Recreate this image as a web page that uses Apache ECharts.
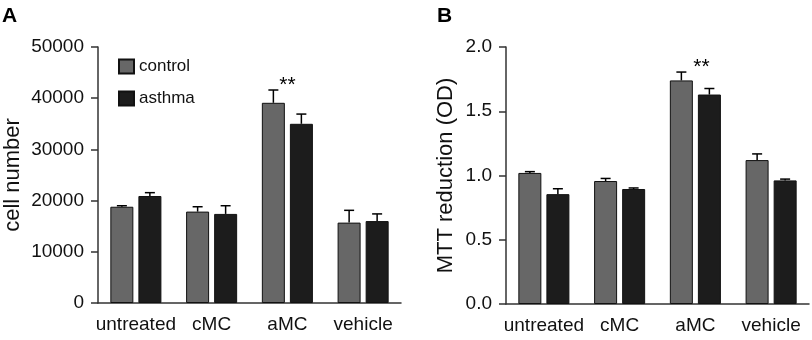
<!DOCTYPE html>
<html>
<head>
<meta charset="utf-8">
<script src="https://cdn.jsdelivr.net/npm/echarts@6/dist/echarts.min.js"></script>
<style>
  html, body { margin: 0; padding: 0; background: #fff; }
  #chart { width: 812px; height: 340px; }
</style>
</head>
<body>
<div id="chart"></div>
<script>
const categories = ['untreated', 'cMC', 'aMC', 'vehicle'];

// panel A: cell number
const cellControl = [18800, 17850, 39100, 15700];
const cellControlErr = [200, 950, 2500, 2400];
const cellAsthma = [20900, 17400, 35000, 16000];
const cellAsthmaErr = [650, 1600, 1900, 1400];
const cellStars = ['', '', '**', ''];

// panel B: MTT reduction (OD)
const mttControl = [1.02, 0.957, 1.74, 1.12];
const mttControlErr = [0.01, 0.02, 0.065, 0.048];
const mttAsthma = [0.855, 0.895, 1.63, 0.962];
const mttAsthmaErr = [0.042, 0.008, 0.047, 0.01];
const mttStars = ['', '', '**', ''];

const FONT = '"Liberation Sans", Arial, sans-serif';
const AXIS = '#333';
const colControl = '#676767';
const colAsthma = '#1c1c1c';
const BAR_OFF = 14; // px from category centre to bar centre

const chart = echarts.init(document.getElementById('chart'));

function errSeries(grid, vals, errs, offset) {
    return {
        type: 'custom',
        xAxisIndex: grid,
        yAxisIndex: grid,
        silent: true,
        z: 5,
        data: vals.map((v, i) => [i, v, errs[i]]),
        encode: { x: 0, y: 1 },
        renderItem: function (params, api) {
            const i = api.value(0);
            const v = api.value(1);
            const e = api.value(2);
            const p0 = api.coord([i, v]);
            const p1 = api.coord([i, v + e]);
            const x = p0[0] + offset;
            const st = { stroke: '#000', lineWidth: 1.5 };
            return {
                type: 'group',
                children: [
                    { type: 'line', shape: { x1: x, y1: p0[1], x2: x, y2: p1[1] }, style: st },
                    { type: 'line', shape: { x1: x - 5, y1: p1[1], x2: x + 5, y2: p1[1] }, style: st }
                ]
            };
        }
    };
}

function starSeries(grid, stars, c, ce, a, ae, dx) {
    return {
        type: 'custom',
        xAxisIndex: grid,
        yAxisIndex: grid,
        silent: true,
        data: stars.map((s, i) => [i, Math.max(c[i] + ce[i], a[i] + ae[i])]),
        encode: { x: 0, y: 1 },
        renderItem: function (params, api) {
            const s = stars[params.dataIndex];
            if (!s) return null;
            const p = api.coord([api.value(0), api.value(1)]);
            return {
                type: 'text',
                style: {
                    text: s, x: p[0] + dx, y: p[1] - 5,
                    align: 'center', verticalAlign: 'middle',
                    font: '21px ' + FONT, fill: '#000'
                }
            };
        }
    };
}

function barSeries(grid, name, vals, color) {
    return {
        name: name,
        type: 'bar',
        xAxisIndex: grid,
        yAxisIndex: grid,
        data: vals,
        barWidth: 23,
        barGap: '22%',
        itemStyle: { color: color, borderColor: '#111', borderWidth: 1 },
        emphasis: { disabled: true }
    };
}

function xAxis(grid) {
    return {
        type: 'category',
        gridIndex: grid,
        data: categories,
        axisLine: { lineStyle: { color: AXIS, width: 1.5 } },
        axisTick: { alignWithLabel: true, length: 7, lineStyle: { color: AXIS, width: 1.5 } },
        axisLabel: { interval: 0, color: '#111', fontSize: 19, fontFamily: FONT, margin: 12 }
    };
}

function yAxis(grid, name, max, interval, gap, fmt) {
    return {
        type: 'value',
        gridIndex: grid,
        min: 0,
        max: max,
        interval: interval,
        name: name,
        nameLocation: 'middle',
        nameGap: gap,
        nameTextStyle: { color: '#111', fontSize: 22, fontFamily: FONT },
        axisLine: { show: true, lineStyle: { color: AXIS, width: 1.5 } },
        axisTick: { show: true, length: 7, lineStyle: { color: AXIS, width: 1.5 } },
        axisLabel: { color: '#111', fontSize: 19, fontFamily: FONT, margin: 14, formatter: fmt },
        splitLine: { show: false }
    };
}

const option = {
    backgroundColor: '#fff',
    animation: false,
    legend: {
        data: ['control', 'asthma'],
        orient: 'vertical',
        left: 118,
        top: 58,
        padding: 0,
        icon: 'rect',
        itemWidth: 15,
        itemHeight: 14,
        itemGap: 15,
        selectedMode: false,
        textStyle: { color: '#111', fontSize: 17, fontFamily: FONT }
    },
    graphic: [
        { type: 'text', left: 2, top: 6, style: { text: 'A', font: 'bold 21px ' + FONT, fill: '#000' } },
        { type: 'text', left: 437, top: 6, style: { text: 'B', font: 'bold 21px ' + FONT, fill: '#000' } }
    ],
    grid: [
        { left: 98, right: 411, top: 47, bottom: 37 },
        { left: 506, right: 3, top: 47, bottom: 36 }
    ],
    xAxis: [xAxis(0), xAxis(1)],
    yAxis: [
        yAxis(0, 'cell number', 50000, 10000, 74, v => String(v)),
        yAxis(1, 'MTT reduction (OD)', 2, 0.5, 49, v => v.toFixed(1))
    ],
    series: [
        barSeries(0, 'control', cellControl, colControl),
        barSeries(0, 'asthma', cellAsthma, colAsthma),
        errSeries(0, cellControl, cellControlErr, -BAR_OFF),
        errSeries(0, cellAsthma, cellAsthmaErr, BAR_OFF),
        starSeries(0, cellStars, cellControl, cellControlErr, cellAsthma, cellAsthmaErr, 0),
        barSeries(1, 'control', mttControl, colControl),
        barSeries(1, 'asthma', mttAsthma, colAsthma),
        errSeries(1, mttControl, mttControlErr, -BAR_OFF),
        errSeries(1, mttAsthma, mttAsthmaErr, BAR_OFF),
        starSeries(1, mttStars, mttControl, mttControlErr, mttAsthma, mttAsthmaErr, 6)
    ]
};

chart.setOption(option);
</script>
</body>
</html>
